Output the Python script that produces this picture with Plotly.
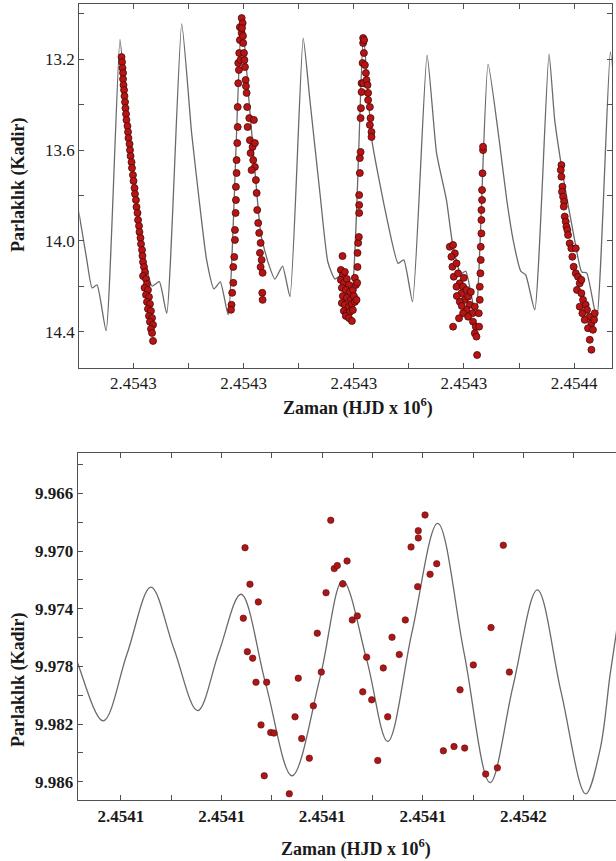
import plotly.graph_objects as go

# ---------------- data (top panel) ----------------
EPOCH_TOP = 2454300.0   # HJD offset for top panel times (days)
EPOCH_BOT = 2454100.0   # HJD offset for bottom panel times (days)

top_model_t = [4.90, 5.10, 5.78, 6.26, 6.71, 7.53, 8.79, 9.34, 9.97, 10.61, 11.15, 11.70, 12.36, 13.03,
               14.39, 15.29, 16.05, 16.65, 17.32, 17.89, 18.61, 19.83, 20.49, 21.03, 21.58, 22.24, 22.85,
               23.54, 24.21, 25.41, 26.02, 26.93, 27.65, 28.29, 28.74, 29.74, 30.87, 31.64, 32.97, 34.02,
               34.54, 35.33, 36.65, 37.51, 38.41, 38.98, 39.71, 40.16, 41.07, 42.18, 43.25, 43.88, 44.51,
               45.15, 45.60, 46.42, 47.71, 48.23, 49.05, 49.95, 50.68, 51.13, 52.04, 53.28, 53.76]
top_model_mag = [13.842, 13.886, 14.084, 14.207, 14.194, 14.396, 13.112, 13.423, 13.674, 13.930, 14.106,
                 14.199, 14.180, 14.319, 13.044, 13.525, 13.851, 14.084, 14.212, 14.181, 14.326, 13.012,
                 13.379, 13.688, 13.974, 14.097, 14.169, 14.111, 14.246, 13.107, 13.379, 13.789, 14.093,
                 14.168, 14.155, 14.260, 13.097, 13.555, 13.893, 14.099, 14.084, 14.268, 13.181, 13.613,
                 13.820, 14.018, 14.146, 14.133, 14.326, 13.221, 13.578, 13.820, 14.009, 14.133, 14.150,
                 14.304, 13.177, 13.467, 13.732, 13.974, 14.137, 14.141, 14.340, 13.167, 13.379]

top_obs_t = [
    # cycle 1 decline
    8.93, 8.98, 9.02, 9.07, 9.07, 9.11, 9.16, 9.20, 9.25, 9.29, 9.34, 9.38, 9.47, 9.52, 9.56, 9.66, 9.70,
    9.75, 9.84, 9.88, 9.97, 10.02, 10.11, 10.15, 10.24, 10.29, 10.38, 10.43, 10.52, 10.56, 10.65, 10.70,
    10.79, 10.83, 10.88, 10.97, 11.06, 10.88, 11.15, 11.24, 11.02, 11.33, 11.15, 11.42, 11.24, 11.51,
    11.33, 11.60, 11.42, 11.70, 11.51, 11.79, 11.60, 11.70, 11.79,
    # cycle 3 rise and decline
    18.91, 18.86, 18.97, 19.07, 19.07, 19.16, 19.22, 19.22, 19.28, 19.31, 19.31, 19.37, 19.37, 19.43,
    19.47, 19.47, 19.52, 19.52, 19.61, 19.67, 19.67, 19.83, 19.92, 19.83, 19.97, 20.04, 20.13, 20.19,
    20.28, 20.33, 20.52, 20.94, 20.37, 20.58, 20.82, 21.03, 20.64, 20.88, 21.03, 20.73, 21.12, 21.19,
    21.24, 21.33, 21.42, 21.55, 21.49, 21.64, 21.55, 21.73, 21.70, 21.73, 19.58, 19.72, 19.86, 19.95,
    20.08, 20.22,
    # cycle 5 minimum and rise
    28.83, 29.01, 29.19, 28.83, 29.10, 29.37, 29.56, 28.92, 29.28, 29.65, 29.92, 29.01, 29.37, 29.74,
    30.01, 28.92, 29.19, 29.56, 29.83, 30.10, 29.10, 29.37, 29.65, 29.92, 29.28, 29.56, 29.83, 30.19,
    30.10, 28.98, 30.25, 30.31, 30.34, 30.34, 30.40, 30.46, 30.49, 30.49, 30.49, 30.55, 30.55, 30.62,
    30.62, 30.65, 30.71, 30.71, 30.85, 30.80, 30.92, 30.85, 30.85, 30.94, 31.01, 31.10, 31.16, 31.25,
    31.30, 31.30, 31.46, 31.52, 31.46, 31.61, 31.61,
    # cycle 7 minimum and rise
    38.71, 39.01, 39.17, 38.86, 38.95, 39.32, 39.07, 39.46, 39.62, 39.32, 39.92, 39.77, 40.22, 40.07,
    40.37, 39.62, 40.53, 40.22, 40.77, 40.98, 39.92, 40.37, 40.82, 41.07, 40.98, 41.13, 41.19, 39.01,
    39.55, 39.35, 39.80, 40.62, 39.98, 41.37, 41.34, 41.43, 41.43, 41.49, 41.52, 41.52, 41.58, 41.58,
    41.58, 41.64, 41.64, 41.68, 41.73, 41.73,
    # cycle 8 decline
    48.84, 48.78, 48.84, 48.93, 48.89, 48.99, 49.08, 49.05, 49.14, 49.23, 49.29, 49.38, 49.44, 49.59,
    49.74, 50.14, 49.83, 49.95, 50.14, 50.34, 50.50, 50.65, 50.25, 50.65, 50.80, 50.50, 51.04, 51.16,
    50.74, 51.41, 50.95, 51.56, 51.25, 51.70, 51.41, 51.56, 51.80, 51.86]
top_obs_mag = [
    13.190, 13.212, 13.238, 13.260, 13.287, 13.313, 13.335, 13.362, 13.388, 13.415, 13.441, 13.467,
    13.494, 13.520, 13.547, 13.573, 13.600, 13.626, 13.653, 13.679, 13.710, 13.736, 13.767, 13.793,
    13.820, 13.851, 13.877, 13.908, 13.934, 13.961, 13.987, 14.014, 14.040, 14.066, 14.093, 14.115,
    14.137, 14.155, 14.168, 14.190, 14.207, 14.216, 14.238, 14.247, 14.269, 14.278, 14.300, 14.309,
    14.331, 14.340, 14.357, 14.370, 14.388, 14.406, 14.441,
    14.282, 14.304, 14.229, 14.185, 14.115, 14.071, 13.996, 13.952, 13.877, 13.820, 13.762, 13.701,
    13.644, 13.569, 13.498, 13.410, 13.305, 13.216, 13.172, 13.115, 13.058, 13.018, 13.040, 13.084,
    13.128, 13.172, 13.234, 13.291, 13.348, 13.410, 13.459, 13.467, 13.498, 13.556, 13.586, 13.569,
    13.613, 13.644, 13.674, 13.688, 13.732, 13.789, 13.864, 13.921, 13.965, 14.009, 14.053, 14.084,
    14.115, 14.141, 14.229, 14.260, 13.247, 13.203, 13.062, 13.097, 13.203, 13.318,
    14.128, 14.150, 14.137, 14.172, 14.185, 14.168, 14.194, 14.207, 14.216, 14.225, 14.216, 14.243,
    14.251, 14.260, 14.243, 14.274, 14.282, 14.291, 14.278, 14.269, 14.309, 14.318, 14.313, 14.305,
    14.331, 14.340, 14.353, 14.194, 14.163, 14.067, 14.260, 14.185, 14.115, 14.053, 14.009, 13.983,
    13.877, 13.842, 13.798, 13.701, 13.635, 13.608, 13.459, 13.415, 13.344, 13.305, 13.305, 13.216,
    13.172, 13.128, 13.106, 13.115, 13.225, 13.260, 13.291, 13.313, 13.348, 13.379, 13.410, 13.459,
    13.489, 13.520, 13.542,
    14.026, 14.018, 14.055, 14.070, 14.114, 14.099, 14.158, 14.143, 14.187, 14.202, 14.202, 14.231,
    14.216, 14.260, 14.246, 14.268, 14.282, 14.304, 14.319, 14.290, 14.319, 14.334, 14.356, 14.378,
    14.407, 14.422, 14.503, 14.378, 14.341, 14.243, 14.287, 14.225, 14.163, 14.378, 14.319, 14.260,
    14.202, 14.143, 14.084, 14.026, 13.967, 13.908, 13.864, 13.820, 13.776, 13.702, 13.600, 13.585,
    13.666, 13.688, 13.717, 13.761, 13.783, 13.805, 13.827, 13.849, 13.893, 13.915, 13.937, 13.952,
    13.974, 14.011, 14.033, 14.033, 14.070, 14.114, 14.143, 14.158, 14.187, 14.172, 14.216, 14.231,
    14.260, 14.290, 14.282, 14.304, 14.319, 14.334, 14.348, 14.363, 14.385, 14.392, 14.436, 14.480,
    14.348, 14.319]

top_xticks = [2454310, 2454320, 2454330, 2454340, 2454350]
top_xticklabels = ["2.4543", "2.4543", "2.4543", "2.4543", "2.4544"]
top_xminor = [2454315, 2454325, 2454335, 2454345]
top_yticks = [13.2, 13.6, 14.0, 14.4]
top_yticklabels = ["13.2", "13.6", "14.0", "14.4"]
top_yminor = [13.0, 13.4, 13.8, 14.2]

# ---------------- data (bottom panel) ----------------
bot_model_t = [4.93, 5.70, 8.24, 10.60, 12.98, 15.27, 17.62, 19.74, 21.93, 24.41, 27.00, 29.78, 32.04,
               34.45, 36.51, 38.93, 41.48, 44.10, 46.68, 48.97, 51.38, 53.74, 56.19, 57.61, 58.61,
               59.20, 59.80]
bot_model_mag = [9.97617, 9.97778, 9.98178, 9.97714, 9.97251, 9.97679, 9.98107, 9.97700, 9.97300,
                 9.97928, 9.98559, 9.97880, 9.97205, 9.97762, 9.98321, 9.97561, 9.96808, 9.97707,
                 9.98606, 9.97935, 9.97270, 9.97977, 9.98684, 9.98379, 9.97859, 9.97582, 9.97270]

bot_obs_t = [22.33, 22.82, 23.65, 22.16, 22.56, 23.09, 23.42, 24.48, 23.92, 24.88, 25.21, 24.24, 26.73,
             27.62, 27.30, 27.96, 28.72, 29.12, 29.91, 29.51, 30.85, 30.38, 31.20, 31.50, 32.47, 32.04,
             32.99, 33.49, 34.42, 36.94, 37.66, 38.26, 38.83, 39.55, 39.55, 40.22, 39.49, 40.72, 41.38,
             46.78, 48.00, 36.07, 34.03, 34.92, 36.51, 35.52, 42.04, 43.10, 44.16, 43.70, 45.02, 48.60,
             46.25, 47.41]
bot_obs_mag = [9.96977, 9.97230, 9.97353, 9.97466, 9.97698, 9.97743, 9.97910, 9.97910, 9.98206,
               9.98259, 9.98263, 9.98559, 9.98684, 9.97882, 9.98150, 9.98301, 9.98437, 9.98074,
               9.97840, 9.97570, 9.96787, 9.97289, 9.97122, 9.97101, 9.97069, 9.97228, 9.97478,
               9.97450, 9.97736, 9.97598, 9.97718, 9.97478, 9.96972, 9.96859, 9.96909, 9.96750,
               9.97247, 9.97161, 9.97088, 9.97531, 9.96960, 9.97811, 9.97977, 9.98032, 9.98150,
               9.98453, 9.98386, 9.98356, 9.98367, 9.97963, 9.97790, 9.97840, 9.98547, 9.98504]

bot_xticks = [2454110, 2454120, 2454130, 2454140, 2454150]
bot_xticklabels = ["2.4541", "2.4541", "2.4541", "2.4541", "2.4542"]
bot_xminor = [2454105, 2454115, 2454125, 2454135, 2454145, 2454155]
bot_yticks = [9.966, 9.970, 9.974, 9.978, 9.982, 9.986]
bot_yticklabels = ["9.966", "9.970", "9.974", "9.978", "9.982", "9.986"]
bot_yminor = [9.964, 9.968, 9.972, 9.976, 9.980, 9.984]

# ---------------- figure ----------------
W, H = 616, 861
FONT = "Liberation Serif"
AX = "#505050"
TXT = "#1a1a1a"
CURVE = "#6a6a6a"
DOT = "#b81414"
DOT_EDGE = "#4a0a0a"

fig = go.Figure()

fig.add_trace(go.Scatter(
    x=[EPOCH_TOP + t for t in top_model_t], y=top_model_mag, mode="lines",
    line=dict(color=CURVE, width=1.3, shape="spline", smoothing=0.5),
    xaxis="x", yaxis="y", hoverinfo="skip"))
fig.add_trace(go.Scatter(
    x=[EPOCH_TOP + t for t in top_obs_t], y=top_obs_mag, mode="markers",
    marker=dict(size=7, color=DOT, line=dict(color=DOT_EDGE, width=0.8)),
    xaxis="x", yaxis="y"))

fig.add_trace(go.Scatter(
    x=[EPOCH_BOT + t for t in bot_model_t], y=bot_model_mag, mode="lines",
    line=dict(color=CURVE, width=1.3, shape="spline", smoothing=1.0),
    xaxis="x2", yaxis="y2", hoverinfo="skip"))
fig.add_trace(go.Scatter(
    x=[EPOCH_BOT + t for t in bot_obs_t], y=bot_obs_mag, mode="markers",
    marker=dict(size=6.5, color="#a81818", line=dict(color="#6a0c0c", width=0.6)),
    xaxis="x2", yaxis="y2"))


def axis_common(bold=False):
    return dict(
        showgrid=False, zeroline=False, showline=True, linecolor=AX, linewidth=1.3,
        ticks="inside", ticklen=5, tickwidth=1, tickcolor=AX,
        tickfont=dict(family=FONT, size=17, color=TXT, weight="bold" if bold else "normal"),
    )


minor_style = dict(ticks="inside", ticklen=5, tickwidth=1, tickcolor=AX)

fig.update_layout(
    width=W, height=H, autosize=False,
    margin=dict(l=0, r=0, t=0, b=0),
    paper_bgcolor="white", plot_bgcolor="white",
    showlegend=False,
    xaxis=dict(
        domain=[79.3 / W, 611.7 / W], anchor="y",
        range=[EPOCH_TOP + 5.10, EPOCH_TOP + 53.40],
        tickmode="array", tickvals=top_xticks, ticktext=top_xticklabels,
        minor=dict(tickvals=top_xminor, **minor_style), mirror="allticks",
        **axis_common()),
    yaxis=dict(
        domain=[1 - 367.7 / H, 1 - 4 / H], anchor="x",
        range=[14.559, 12.956],
        tickmode="array", tickvals=top_yticks, ticktext=top_yticklabels,
        minor=dict(tickvals=top_yminor, **minor_style), mirror="allticks",
        **axis_common()),
    xaxis2=dict(
        domain=[77.7 / W, 1.0], anchor="y2",
        range=[EPOCH_BOT + 5.70, EPOCH_BOT + 59.20],
        tickmode="array", tickvals=bot_xticks, ticktext=bot_xticklabels,
        minor=dict(tickvals=bot_xminor, **minor_style), mirror="allticks",
        **axis_common(bold=True)),
    yaxis2=dict(
        domain=[1 - 800 / H, 1 - 452.7 / H], anchor="x2",
        range=[9.98727, 9.96318],
        tickmode="array", tickvals=bot_yticks, ticktext=bot_yticklabels,
        minor=dict(tickvals=bot_yminor, **minor_style), mirror=False,
        **axis_common(bold=True)),
)

title_font = dict(family=FONT, size=18, color=TXT)
annos = [
    dict(text="<b>Parlaklık (Kadir)</b>", x=18 / W, y=1 - 185 / H, textangle=-90),
    dict(text="<b>Zaman (HJD x 10<sup>6</sup>)</b>", x=358 / W, y=1 - 407 / H, textangle=0),
    dict(text="<b>Parlaklık (Kadir)</b>", x=18 / W, y=1 - 680 / H, textangle=-90),
    dict(text="<b>Zaman (HJD x 10<sup>6</sup>)</b>", x=356 / W, y=1 - 848 / H, textangle=0),
]
for a in annos:
    fig.add_annotation(xref="paper", yref="paper", xanchor="center", yanchor="middle",
                       showarrow=False, font=title_font, **a)

fig.write_html("out.html", config={"displayModeBar": False},
               post_script="document.body.style.margin='0';document.body.style.overflow='hidden';")
